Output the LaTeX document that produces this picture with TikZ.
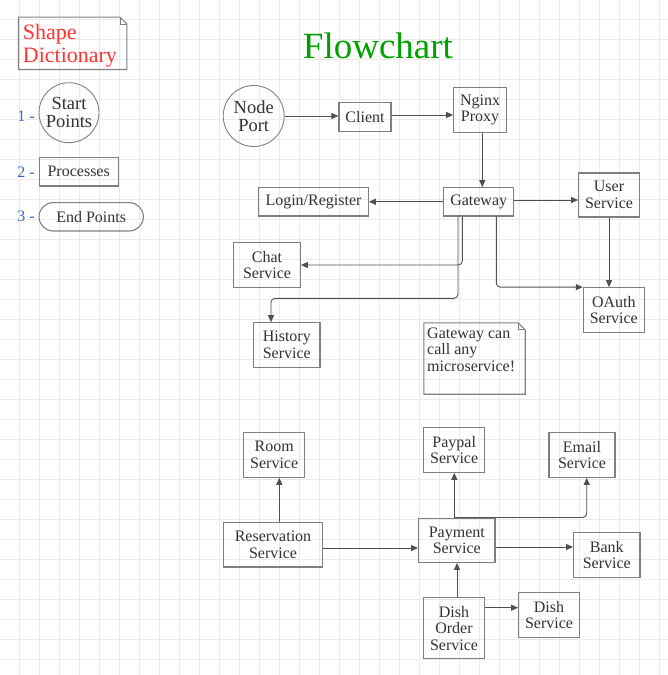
\documentclass[tikz,border=0pt]{standalone}
\usepackage{fontspec}
\setmainfont{Liberation Serif}
\usetikzlibrary{arrows.meta}

\definecolor{gridgray}{HTML}{EBEBEB}
\definecolor{boxgray}{HTML}{808080}
\definecolor{linegray}{HTML}{505050}
\definecolor{textgray}{HTML}{333333}
\definecolor{dictred}{HTML}{FF3333}
\definecolor{titlegreen}{HTML}{00A000}
\definecolor{numblue}{HTML}{3366CC}

\begin{document}
\begin{tikzpicture}[x=1pt, y=-1pt,
  every node/.style={font=\fontsize{16}{16.5}\selectfont, text=textgray},
  svc/.style={draw=boxgray, line width=1.1pt, rectangle, inner sep=0pt, align=center},
  startpt/.style={draw=boxgray, line width=0.9pt, circle, inner sep=0pt, align=center,
    font=\fontsize{18.5}{18.5}\selectfont},
  notebox/.style={draw=boxgray, line width=1.1pt},
  link/.style={draw=linegray, line width=0.9pt, rounded corners=4pt,
    -{Triangle[length=7pt,width=6pt]}}
]

\fill [white] (0,0) rectangle (668,675) ;
\useasboundingbox (0,0) rectangle (668,675) ;
\foreach \gx in {19.5,39.5,...,660} \draw [gridgray, line width=0.8pt] (\gx,0) to (\gx,675) ;
\foreach \gy in {19,39,...,660} \draw [gridgray, line width=0.8pt] (0,\gy) to (668,\gy) ;

\node [minimum width=108pt, minimum height=52pt, inner sep=0pt] (dict) at (72.7,43.3) {} ;
\draw [notebox] (dict.north west) -- ([xshift=-7pt]dict.north east) -- ([yshift=-7pt]dict.north east)
  -- (dict.south east) -- (dict.south west) -- cycle ;
\draw [notebox, line width=0.7pt] ([xshift=-7pt]dict.north east) |- ([yshift=-7pt]dict.north east) ;
\node [anchor=west, inner sep=0pt, align=left, font=\fontsize{22}{23}\selectfont, text=dictred]
  (dicttext) at (22.7,46) {Shape\\Dictionary} ;

\node [text=numblue] (num1) at (26,116) {1 -} ;
\node [text=numblue] (num2) at (26,171.7) {2 -} ;
\node [text=numblue] (num3) at (26,216) {3 -} ;

\node [startpt, minimum size=60pt] (startpts) at (69,112.7) {Start\\Points} ;
\node [svc, minimum width=79.3pt, minimum height=28.3pt] (procs) at (78.7,171.8) {Processes} ;
\node [svc, rounded corners=14pt, minimum width=104.3pt, minimum height=28.3pt] (endpts) at (91.2,216.8) {End Points} ;

\node [font=\fontsize{37}{40}\selectfont, text=titlegreen] (title) at (378,46) {Flowchart} ;

\node [startpt, minimum size=61pt] (port) at (253.7,116) {Node\\Port} ;
\node [svc, minimum width=52pt, minimum height=28.6pt] (client) at (365,117) {Client} ;
\node [svc, minimum width=52.6pt, minimum height=45pt] (nginx) at (480,109.8) {Nginx\\Proxy} ;
\node [svc, minimum width=70pt, minimum height=28.3pt] (gateway) at (478.7,201.8) {Gateway} ;
\node [svc, minimum width=109.6pt, minimum height=28.3pt] (login) at (313.5,201.8) {Login/Register} ;
\node [svc, minimum width=60.6pt, minimum height=44pt] (user) at (609,195) {User\\Service} ;
\node [svc, minimum width=66.6pt, minimum height=44.6pt] (chat) at (267,265) {Chat\\Service} ;
\node [svc, minimum width=61pt, minimum height=44.6pt] (oauth) at (613.8,310) {OAuth\\Service} ;
\node [svc, minimum width=66.3pt, minimum height=44.6pt] (history) at (286.8,345) {History\\Service} ;

\node [minimum width=101pt, minimum height=71pt, inner sep=0pt] (gwnote) at (474.5,358.5) {} ;
\draw [notebox] (gwnote.north west) -- ([xshift=-7pt]gwnote.north east) -- ([yshift=-7pt]gwnote.north east)
  -- (gwnote.south east) -- (gwnote.south west) -- cycle ;
\draw [notebox, line width=0.7pt] ([xshift=-7pt]gwnote.north east) |- ([yshift=-7pt]gwnote.north east) ;
\node [anchor=north west, inner sep=0pt, align=left] (gwtext) at (427,327.5)
  {Gateway can\\call any\\microservice!} ;

\node [svc, minimum width=61pt, minimum height=44.6pt] (room) at (274.2,455) {Room\\Service} ;
\node [svc, minimum width=61pt, minimum height=45pt] (paypal) at (454.2,449.8) {Paypal\\Service} ;
\node [svc, minimum width=66pt, minimum height=44.6pt] (email) at (582,455) {Email\\Service} ;
\node [svc, minimum width=98.6pt, minimum height=44.3pt] (reserv) at (273,544.8) {Reservation\\Service} ;
\node [svc, minimum width=76.3pt, minimum height=44.3pt] (payment) at (456.8,540.2) {Payment\\Service} ;
\node [svc, minimum width=66.3pt, minimum height=44.6pt] (bank) at (606.8,555) {Bank\\Service} ;
\node [svc, minimum width=60.6pt, minimum height=61pt] (dishorder) at (454,628.2) {Dish\\Order\\Service} ;
\node [svc, minimum width=60.6pt, minimum height=44.6pt] (dish) at (549,615) {Dish\\Service} ;

\draw [link] (port.east) -- (port.east -| client.west) ;
\draw [link] ([yshift=2pt]client.east) -- ([yshift=2pt]client.east -| nginx.west) ;
\draw [link] ([xshift=2.3pt]nginx.south) -- ([xshift=2.3pt]nginx.south |- gateway.north) ;
\draw [link] (gateway.west) -- (login.east) ;
\draw [link] ([yshift=1.8pt]gateway.east) -- ([yshift=1.8pt]gateway.east -| user.west) ;
\draw [link] ([xshift=-16.4pt]gateway.south) |- (chat.east) ;
\coordinate (histbend) at (271,298.3) ;
\draw [link] ([xshift=-20.7pt]gateway.south) |- (histbend) -- (histbend |- history.north) ;
\draw [link] ([xshift=17.6pt]gateway.south) |- (oauth.north west) ;
\draw [link] (user.south) -- (user.south |- oauth.north) ;

\draw [link] ([xshift=6.3pt]reserv.north) -- ([xshift=6.3pt]reserv.north |- room.south) ;
\draw [link] ([yshift=-3.2pt]reserv.east) -- ([yshift=-3.2pt]reserv.east -| payment.west) ;
\draw [link] ([xshift=-2.5pt]payment.north) -- ([xshift=-2.5pt]payment.north |- paypal.south) ;
\draw [link] ([xshift=-2.5pt]payment.north) -| ([xshift=4.7pt]email.south) ;
\draw [link] ([yshift=-6.8pt]payment.east) -- ([yshift=-6.8pt]payment.east -| bank.west) ;
\draw [link] ([xshift=3pt]dishorder.north) -- ([xshift=3pt]dishorder.north |- payment.south) ;
\draw [link] ([yshift=20.5pt]dishorder.east) -- ([yshift=20.5pt]dishorder.east -| dish.west) ;

\end{tikzpicture}
\end{document}
